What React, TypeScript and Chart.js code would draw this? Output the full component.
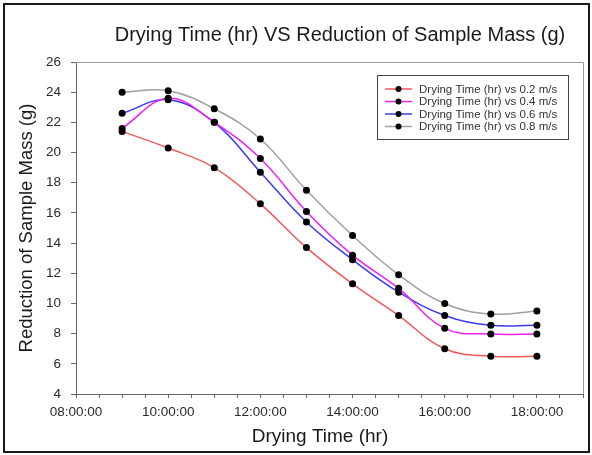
import React, { useEffect, useRef } from "react";
import { Chart, registerables } from "chart.js";

Chart.register(...registerables);

// Drying time in hours of the day
const hours = [9, 10, 11, 12, 13, 14, 15, 16, 17, 18];

const speed02 = [21.4, 20.3, 19.0, 16.6, 13.7, 11.3, 9.2, 7.0, 6.5, 6.5];
const speed04 = [21.6, 23.6, 22.0, 19.6, 16.1, 13.2, 11.0, 8.35, 7.97, 7.97];
const speed06 = [22.6, 23.5, 22.0, 18.7, 15.4, 12.9, 10.75, 9.2, 8.55, 8.55];
const speed08 = [24.0, 24.1, 22.9, 20.9, 17.5, 14.5, 11.9, 10.0, 9.3, 9.5];

const seriesLabels = [
  "Drying Time (hr) vs 0.2 m/s",
  "Drying Time (hr) vs 0.4 m/s",
  "Drying Time (hr) vs 0.6 m/s",
  "Drying Time (hr) vs 0.8 m/s",
];
const seriesColors = ["#f05a5a", "#f020f0", "#3a3af0", "#a0a0a0"];

const chartTitle = "Drying Time (hr) VS Reduction of Sample Mass (g)";
const xTitle = "Drying Time (hr)";
const yTitle = "Reduction of Sample Mass (g)";

const xMin = 8;
const xMax = 19;
const xStep = 0.5;
const xLabelEvery = 2;
const yMin = 4;
const yMax = 26;
const yStep = 2;

const FONT = "Arial, 'Liberation Sans', sans-serif";

function fmtHour(v: number): string {
  const h = Math.round(v);
  return (h < 10 ? "0" : "") + h + ":00:00";
}

const decorPlugin = {
  id: "decor",
  beforeDraw(chart: any) {
    const { ctx, width, height } = chart;
    ctx.save();
    ctx.fillStyle = "#ffffff";
    ctx.fillRect(0, 0, width, height);
    ctx.strokeStyle = "#1a1a1a";
    ctx.lineWidth = 2;
    ctx.strokeRect(4, 4, width - 7, height - 7);
    ctx.restore();
  },
  afterDraw(chart: any) {
    const { ctx, chartArea } = chart;
    ctx.save();
    // plot frame top/right
    ctx.strokeStyle = "#9a9a9a";
    ctx.lineWidth = 1;
    ctx.beginPath();
    ctx.moveTo(chartArea.left, chartArea.top + 0.5);
    ctx.lineTo(chartArea.right + 0.5, chartArea.top + 0.5);
    ctx.lineTo(chartArea.right + 0.5, chartArea.bottom);
    ctx.stroke();

    // title
    ctx.fillStyle = "#1a1a1a";
    ctx.font = `20px ${FONT}`;
    ctx.textAlign = "center";
    ctx.textBaseline = "alphabetic";
    ctx.fillText(chartTitle, 340, 41);

    // x axis title
    ctx.font = `19px ${FONT}`;
    ctx.textBaseline = "middle";
    ctx.fillText(xTitle, 320, 437);

    // legend
    const lx = 377;
    const ly = 75;
    const lw = 191;
    const lh = 64;
    ctx.strokeStyle = "#444";
    ctx.lineWidth = 1;
    ctx.strokeRect(lx + 0.5, ly + 0.5, lw, lh);
    ctx.font = `11.5px ${FONT}`;
    ctx.textAlign = "left";
    ctx.textBaseline = "middle";
    const rowY = [89, 101.5, 114, 126.5];
    chart.data.datasets.forEach((ds: any, i: number) => {
      const y = rowY[i];
      ctx.strokeStyle = ds.borderColor;
      ctx.lineWidth = 1.5;
      ctx.beginPath();
      ctx.moveTo(385, y);
      ctx.lineTo(412, y);
      ctx.stroke();
      ctx.fillStyle = "#000";
      ctx.beginPath();
      ctx.arc(398.5, y, 3, 0, Math.PI * 2);
      ctx.fill();
      ctx.fillStyle = "#333";
      ctx.fillText(ds.label, 419, y + 0.5);
    });
    ctx.restore();
  },
};

export default function App() {
  const ref = useRef<HTMLCanvasElement | null>(null);

  useEffect(() => {
    if (!ref.current) return;
    const series = [speed02, speed04, speed06, speed08];
    const chart = new Chart(ref.current, {
      type: "line",
      data: {
        datasets: series.map((vals, i) => ({
          label: seriesLabels[i],
          data: hours.map((h, j) => ({ x: h, y: vals[j] })),
          borderColor: seriesColors[i],
          backgroundColor: seriesColors[i],
          borderWidth: 1.5,
          tension: 0.4,
          pointRadius: 3.5,
          pointBackgroundColor: "#000",
          pointBorderColor: "#000",
          pointBorderWidth: 0,
          fill: false,
        })),
      },
      options: {
        responsive: false,
        animation: false,
        devicePixelRatio: 1,
        layout: { padding: { top: 62, right: 9, left: 0, bottom: 0 } },
        plugins: {
          legend: { display: false },
          title: { display: false },
          tooltip: { enabled: false },
        },
        scales: {
          x: {
            type: "linear",
            min: xMin,
            max: xMax,
            afterFit: (s: any) => {
              s.height = 61;
            },
            afterBuildTicks: (s: any) => {
              const t = [];
              for (let v = xMin; v <= xMax + 1e-9; v += xStep) t.push({ value: v });
              s.ticks = t;
            },
            ticks: {
              autoSkip: false,
              maxRotation: 0,
              padding: 6,
              color: "#2a2a2a",
              font: { family: FONT, size: 13.5 },
              callback: (v: any) => {
                const n = Number(v);
                return Math.abs(n % xLabelEvery) < 1e-9 && n < xMax ? fmtHour(n) : "";
              },
            },
            grid: {
              drawOnChartArea: false,
              drawTicks: true,
              tickLength: 4,
              tickColor: "#666",
            },
            border: { color: "#666", width: 1 },
            title: { display: false, text: xTitle },
          },
          y: {
            type: "linear",
            min: yMin,
            max: yMax,
            afterFit: (s: any) => {
              s.width = 76;
            },
            ticks: {
              stepSize: yStep,
              padding: 10,
              color: "#2a2a2a",
              font: { family: FONT, size: 13.5 },
            },
            grid: {
              drawOnChartArea: false,
              drawTicks: true,
              tickLength: 5,
              tickColor: "#666",
            },
            border: { color: "#666", width: 1 },
            title: {
              display: true,
              text: yTitle,
              color: "#1a1a1a",
              font: { family: FONT, size: 18.5 },
              padding: { top: 16, bottom: 0 },
            },
          },
        },
      },
      plugins: [decorPlugin],
    } as any);
    return () => chart.destroy();
  }, []);

  return (
    <div style={{ position: "fixed", left: 0, top: 0, width: 592, height: 455 }}>
      <canvas ref={ref} width={592} height={455} style={{ display: "block" }} />
    </div>
  );
}
